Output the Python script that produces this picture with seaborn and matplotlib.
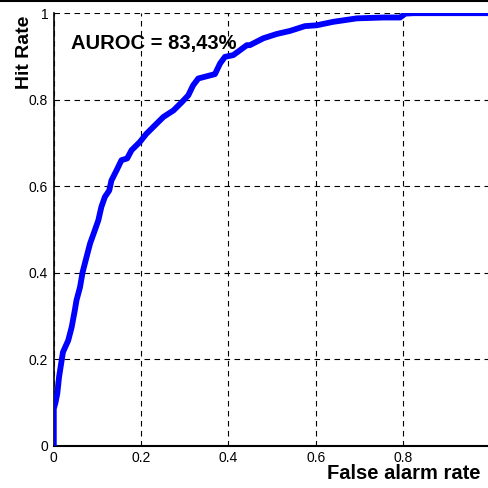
import numpy as np
import pandas as pd
import matplotlib
matplotlib.use("Agg")
import matplotlib.pyplot as plt
from matplotlib.lines import Line2D
import seaborn as sns

# ROC curve points
false_alarm = [0.0, 0.0, 0.004, 0.008, 0.012, 0.018, 0.021, 0.033, 0.041, 0.048, 0.052,
               0.060, 0.066, 0.075, 0.083, 0.094, 0.102, 0.109, 0.117, 0.127, 0.132,
               0.144, 0.155, 0.168, 0.178, 0.197, 0.212, 0.224, 0.251, 0.274, 0.293,
               0.308, 0.319, 0.331, 0.350, 0.369, 0.381, 0.392, 0.411, 0.426, 0.442,
               0.449, 0.480, 0.511, 0.541, 0.575, 0.602, 0.640, 0.694, 0.755, 0.793,
               0.805, 0.824, 0.900, 1.0]
hit_rate = [0.0, 0.085, 0.10, 0.12, 0.158, 0.197, 0.216, 0.243, 0.274, 0.312, 0.336,
            0.366, 0.401, 0.436, 0.467, 0.498, 0.521, 0.552, 0.575, 0.590, 0.613,
            0.637, 0.660, 0.664, 0.683, 0.702, 0.721, 0.733, 0.760, 0.775, 0.794,
            0.810, 0.833, 0.849, 0.854, 0.859, 0.884, 0.899, 0.903, 0.914, 0.926,
            0.926, 0.942, 0.952, 0.959, 0.970, 0.972, 0.980, 0.988, 0.990, 0.990,
            0.999, 1.0, 1.0, 1.0]
auroc_text = "AUROC = 83,43%"
ticks = [0, 0.2, 0.4, 0.6, 0.8, 1]
x_ticklabels = ["0", "0.2", "0.4", "0.6", "0.8", ""]
y_ticklabels = ["0", "0.2", "0.4", "0.6", "0.8", "1"]

sns.set_style("white")
plt.rcParams["font.family"] = ["Liberation Sans", "DejaVu Sans"]
plt.rcParams["text.color"] = "black"

df = pd.DataFrame({"far": false_alarm, "hr": hit_rate})

fig = plt.figure(figsize=(4.89, 4.88), dpi=100)
ax = fig.add_axes([0.110, 0.087, 0.893, 0.886])

sns.lineplot(data=df, x="far", y="hr", ax=ax, sort=False, estimator=None,
             color="#0000ff", linewidth=4.2, zorder=3)

ax.set_xlim(0, 1)
ax.set_ylim(0, 1)
ax.set_xticks(ticks)
ax.set_yticks(ticks)
ax.set_xticklabels(x_ticklabels, fontsize=10)
ax.set_yticklabels(y_ticklabels, fontsize=10)
ax.tick_params(direction="in", length=4, width=1, colors="black", labelcolor="black", pad=4)
ax.grid(True, color="black", linestyle=(0, (5, 4)), linewidth=0.8)

for side in ["top", "right"]:
    ax.spines[side].set_visible(False)
ax.spines["left"].set_color("black")
ax.spines["left"].set_linewidth(1.2)
ax.spines["bottom"].set_color("black")
ax.spines["bottom"].set_linewidth(1.5)

ax.set_xlabel("")
ax.set_ylabel("")
fig.text(0.825, 0.030, "False alarm rate", fontsize=14.5, fontweight="bold",
         ha="center", va="center", color="black")
fig.text(0.051, 0.893, "Hit Rate", fontsize=14, fontweight="bold",
         ha="center", va="center", rotation=90, color="black")
ax.text(0.04, 0.93, auroc_text, transform=ax.transAxes, fontsize=14.5,
        fontweight="bold", ha="left", va="center", color="black")

fig.add_artist(Line2D([0, 1], [0.998, 0.998], color="black", linewidth=1.5,
                      transform=fig.transFigure))

fig.savefig("out.png", dpi=100)
